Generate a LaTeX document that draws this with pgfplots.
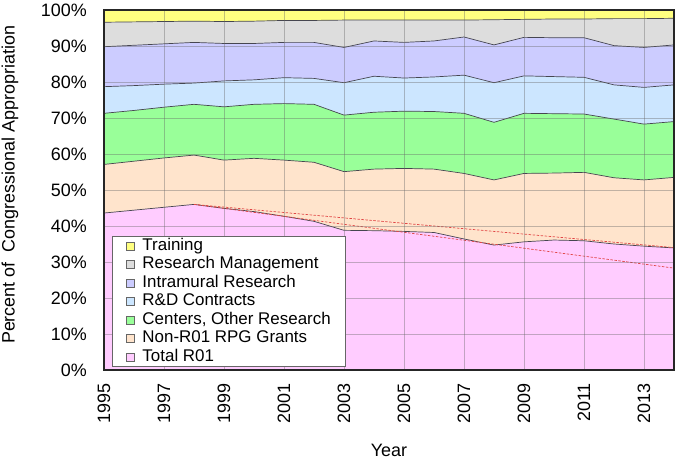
\documentclass[border=0pt]{standalone}
\usepackage{fontspec}
\setmainfont{Liberation Sans}
\usepackage{pgfplots}
\usepackage{pgfplotstable}
\pgfplotsset{compat=1.18}
\definecolor{cTR}{RGB}{255,255,128}
\definecolor{cRM}{RGB}{221,221,221}
\definecolor{cIN}{RGB}{204,204,255}
\definecolor{cRD}{RGB}{204,230,255}
\definecolor{cCT}{RGB}{153,255,153}
\definecolor{cNR}{RGB}{255,228,204}
\definecolor{cR01}{RGB}{255,204,255}
\definecolor{bline}{RGB}{70,70,80}
\definecolor{trend}{RGB}{225,70,70}
% cumulative shares (percent of appropriation)
\pgfplotstableread{
year R01  NR   CT   RD   IN   RM   TR
1995 43.6 57.1 71.3 78.7 89.8 96.6 100
1996 44.4 58.0 72.1 79.0 90.2 96.7 100
1997 45.2 58.9 73.0 79.4 90.6 96.8 100
1998 46.0 59.7 73.8 79.7 91.0 96.9 100
1999 44.9 58.3 73.1 80.3 90.7 96.8 100
2000 44.0 58.8 73.8 80.6 90.7 96.9 100
2001 42.7 58.3 74.0 81.2 91.0 97.1 100
2002 41.3 57.7 73.8 81.0 91.0 97.1 100
2003 38.8 55.1 70.8 79.8 89.6 97.2 100
2004 38.7 55.8 71.6 81.6 91.4 97.2 100
2005 38.5 56.0 71.9 81.1 91.0 97.2 100
2006 38.2 55.8 71.8 81.4 91.4 97.2 100
2007 36.4 54.6 71.3 81.9 92.5 97.2 100
2008 34.7 52.8 68.8 79.8 90.3 97.3 100
2009 35.6 54.6 71.3 81.7 92.4 97.4 100
2010 36.1 54.7 71.2 81.5 92.3 97.5 100
2011 35.9 54.9 71.1 81.3 92.3 97.5 100
2012 35.0 53.4 69.7 79.2 90.1 97.6 100
2013 34.4 52.8 68.3 78.5 89.6 97.6 100
2014 33.9 53.5 69.0 79.2 90.3 97.7 100
}\data
\begin{document}
\begin{tikzpicture}
\useasboundingbox (-104bp,-90bp) rectangle (573bp,370bp);
\begin{axis}[
  at={(0,0)}, anchor=south west,
  scale only axis, width=570bp, height=360bp,
  xmin=1995, xmax=2014, ymin=0, ymax=100,
  xtick={1995,1997,...,2013},
  xticklabels={1995,1997,1999,2001,2003,2005,2007,2009,2011,2013},
  ytick={0,10,...,100},
  yticklabels={0\%,10\%,20\%,30\%,40\%,50\%,60\%,70\%,80\%,90\%,100\%},
  major tick length=0pt,
  tick label style={font=\fontsize{18}{20}\selectfont},
  xticklabel style={yshift=-13bp, rotate=90, anchor=east, inner sep=0pt},
  yticklabel style={xshift=-17bp, anchor=east, inner sep=0pt},
  xlabel={Year},
  ylabel={Percent of\ \ Congressional Appropriation},
  label style={font=\fontsize{18}{20}\selectfont},
  xlabel style={at={(axis description cs:0.5,0)}, anchor=center, yshift=-80bp},
  ylabel style={at={(axis description cs:-0.165,0.514)}, anchor=center},
  grid=major,
  grid style={black!60, opacity=0.4, line width=0.6bp},
  axis on top,
  axis line style={black!85, line width=1.3bp},
  legend cell align=left,
  legend image code/.code={\draw[#1,draw=black!60,line width=0.6bp] (0bp,-4bp) rectangle (8bp,4bp);},
  legend style={at={(0.014,0.008)}, anchor=south west,
    draw=black!60, line width=0.8bp, fill=white,
    font=\fontsize{17}{18}\selectfont,
    inner xsep=14bp, inner ysep=1bp, row sep=1.5bp, column sep=7bp,
    nodes={inner sep=0.5bp, text height=12bp, text depth=4bp}},
]
\addplot[fill=cTR, draw=bline, line width=0.7bp] table[x=year,y=TR] {\data} \closedcycle;
\addlegendentry{Training}
\addplot[fill=cRM, draw=bline, line width=0.7bp] table[x=year,y=RM] {\data} \closedcycle;
\addlegendentry{Research Management}
\addplot[fill=cIN, draw=bline, line width=0.7bp] table[x=year,y=IN] {\data} \closedcycle;
\addlegendentry{Intramural Research}
\addplot[fill=cRD, draw=bline, line width=0.7bp] table[x=year,y=RD] {\data} \closedcycle;
\addlegendentry{R\&D Contracts}
\addplot[fill=cCT, draw=bline, line width=0.7bp] table[x=year,y=CT] {\data} \closedcycle;
\addlegendentry{Centers, Other Research}
\addplot[fill=cNR, draw=bline, line width=0.7bp] table[x=year,y=NR] {\data} \closedcycle;
\addlegendentry{Non-R01 RPG Grants}
\addplot[fill=cR01, draw=bline, line width=0.7bp] table[x=year,y=R01] {\data} \closedcycle;
\addlegendentry{Total R01}
\addplot[forget plot, trend, line width=0.7bp, dash pattern=on 2.5bp off 1.5bp] coordinates {(1998,46.0) (2014,34.0)};
\addplot[forget plot, trend, line width=0.7bp, dash pattern=on 2.5bp off 1.5bp] coordinates {(1998,46.0) (2014,28.3)};
\end{axis}
\end{tikzpicture}
\end{document}
